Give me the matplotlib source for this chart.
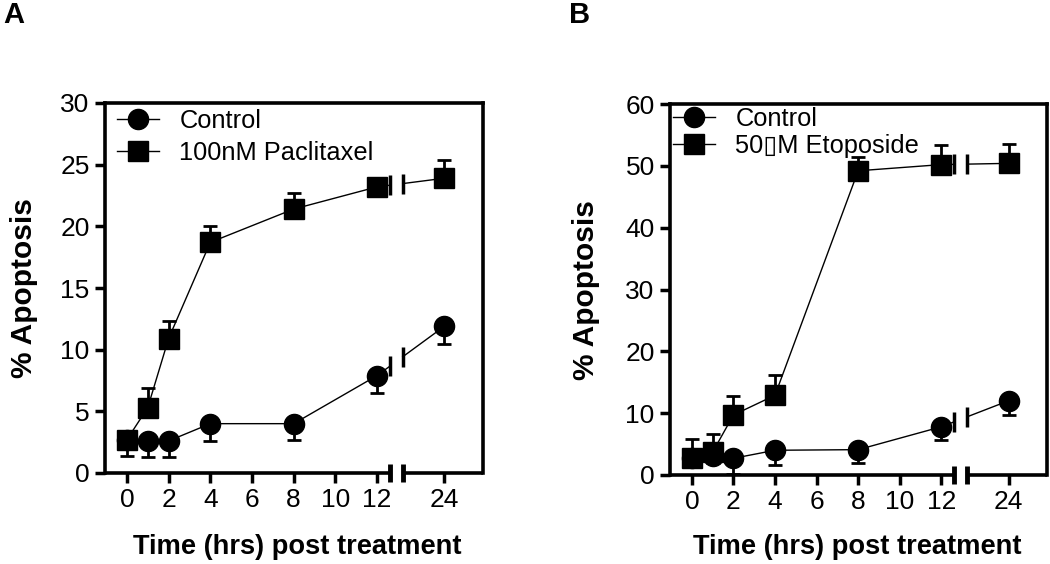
import numpy as np
import matplotlib
matplotlib.use("Agg")
import matplotlib.pyplot as plt
from matplotlib.lines import Line2D

plt.rcParams['font.family'] = ['Liberation Sans', 'DejaVu Sans']

# ---------------- data ----------------
hours = [0, 1, 2, 4, 8, 12, 24]
xticks = [0, 2, 4, 6, 8, 10, 12, 24]

a_control = [2.7, 2.6, 2.6, 4.0, 4.0, 7.9, 11.9]
a_control_err = [1.3, 1.3, 1.3, 1.4, 1.3, 1.4, 1.4]
a_pacl = [2.7, 5.3, 10.9, 18.7, 21.4, 23.2, 23.9]
a_pacl_err = [0.4, 1.6, 1.4, 1.3, 1.3, 0.7, 1.5]

b_control = [2.8, 3.0, 2.7, 4.0, 4.1, 7.8, 12.0]
b_control_err = [1.0, 1.0, 2.5, 2.4, 2.2, 2.1, 2.3]
b_etop = [2.8, 3.7, 9.7, 12.9, 49.2, 50.2, 50.4]
b_etop_err = [3.1, 2.9, 3.0, 3.2, 2.3, 3.1, 3.2]

labels_a = ["Control", "100nM Paclitaxel"]
labels_b = ["Control", "50\u25afM Etoposide"]

# ---------------- broken x scale ----------------
LO, HI, G = 12.6, 22.0, 0.63


def fwd(x):
    x = np.asarray(x, float)
    return np.where(x <= LO, x,
                    np.where(x >= HI, x - HI + LO + G,
                             LO + (x - LO) * G / (HI - LO)))


def inv(v):
    v = np.asarray(v, float)
    return np.where(v <= LO, v,
                    np.where(v >= LO + G, v - LO - G + HI,
                             LO + (v - LO) * (HI - LO) / G))


W, H = 1050, 564
fig = plt.figure(figsize=(W / 100, H / 100), dpi=100)


def px_axes(l, t, r, b):
    return fig.add_axes([l / W, 1 - b / H, (r - l) / W, (b - t) / H])


def draw_series(ax, x, y, err, marker, below):
    x = np.asarray(x, float)
    y = np.asarray(y, float)
    e = np.asarray(err, float)
    z = np.zeros_like(e)
    yerr = [e, z] if below else [z, e]
    ax.errorbar(x, y, yerr=yerr, fmt='none', ecolor='k', elinewidth=2,
                capsize=5, capthick=2, zorder=3)
    vx = fwd(x)
    y_lo = np.interp(LO, vx, y)
    y_hi = np.interp(LO + G, vx, y)
    m = x <= 12
    ax.plot(np.r_[x[m], LO], np.r_[y[m], y_lo], color='k', lw=1, zorder=2)
    m2 = x >= 24
    ax.plot(np.r_[HI, x[m2]], np.r_[y_hi, y[m2]], color='k', lw=1, zorder=2)
    ax.plot([LO, HI], [y_lo, y_hi], ls='none', marker='|', ms=15, mew=2.5,
            color='k', zorder=3)
    ax.plot(x, y, ls='none', marker=marker, ms=14.5, color='k', zorder=4,
            clip_on=False)


def style_axes(ax, ymax, ystep):
    ax.set_xscale('function', functions=(fwd, inv))
    ax.set_xlim(-1.05, 25.85)
    ax.set_ylim(0, ymax)
    ax.set_xticks(xticks)
    ax.set_xticklabels([str(t) for t in xticks])
    ax.set_yticks(np.arange(0, ymax + 0.1, ystep))
    ax.tick_params(axis='both', direction='out', length=7, width=2.5,
                   labelsize=19, pad=4)
    ax.tick_params(axis='y', right=False)
    ax.tick_params(axis='x', top=False)
    for s in ['left', 'top', 'right']:
        ax.spines[s].set_linewidth(2.6)
    ax.spines['bottom'].set_visible(False)
    # broken bottom axis
    ax.plot([-1.05, LO], [0, 0], color='k', lw=2.6, clip_on=False,
            solid_capstyle='butt', zorder=5)
    ax.plot([HI, 25.85], [0, 0], color='k', lw=2.6, clip_on=False,
            solid_capstyle='butt', zorder=5)
    ax.plot([LO, HI], [0, 0], ls='none', marker='|', ms=13, mew=3.5,
            color='k', clip_on=False, zorder=5)


def add_legend(ax, labels, left_px, top_px, spacing):
    handles = [Line2D([], [], color='k', lw=1, marker='o', ms=14.5),
               Line2D([], [], color='k', lw=1, marker='s', ms=14.5)]
    ax.legend(handles, labels, loc='upper left',
              bbox_to_anchor=(left_px / W, 1 - top_px / H),
              bbox_transform=fig.transFigure, frameon=False,
              fontsize=18.3, handlelength=1.65, handletextpad=0.8,
              borderpad=0, borderaxespad=0, labelspacing=spacing)


# ---------------- panel A ----------------
axA = px_axes(105, 103, 483, 473)
style_axes(axA, 30, 5)
draw_series(axA, hours, a_pacl, a_pacl_err, 's', below=False)
draw_series(axA, hours, a_control, a_control_err, 'o', below=True)
add_legend(axA, labels_a, 117, 109, 0.3)

# ---------------- panel B ----------------
axB = px_axes(670, 104, 1047, 475)
style_axes(axB, 60, 10)
draw_series(axB, hours, b_etop, b_etop_err, 's', below=False)
draw_series(axB, hours, b_control, b_control_err, 'o', below=True)
add_legend(axB, labels_b, 673, 107, 0.12)

# ---------------- labels ----------------
fig.text(297 / W, 1 - 547 / H, "Time (hrs) post treatment", ha='center',
         va='center', fontsize=19.6, fontweight='bold')
fig.text(857 / W, 1 - 547 / H, "Time (hrs) post treatment", ha='center',
         va='center', fontsize=19.6, fontweight='bold')
fig.text(24 / W, 1 - 288 / H, "% Apoptosis", ha='center', va='center',
         rotation=90, fontsize=21.5, fontweight='bold')
fig.text(586 / W, 1 - 290 / H, "% Apoptosis", ha='center', va='center',
         rotation=90, fontsize=21.5, fontweight='bold')
fig.text(14 / W, 1 - 15 / H, "A", ha='center', va='center', fontsize=21,
         fontweight='bold')
fig.text(580 / W, 1 - 15 / H, "B", ha='center', va='center', fontsize=21,
         fontweight='bold')

fig.savefig("out.png", dpi=100)
